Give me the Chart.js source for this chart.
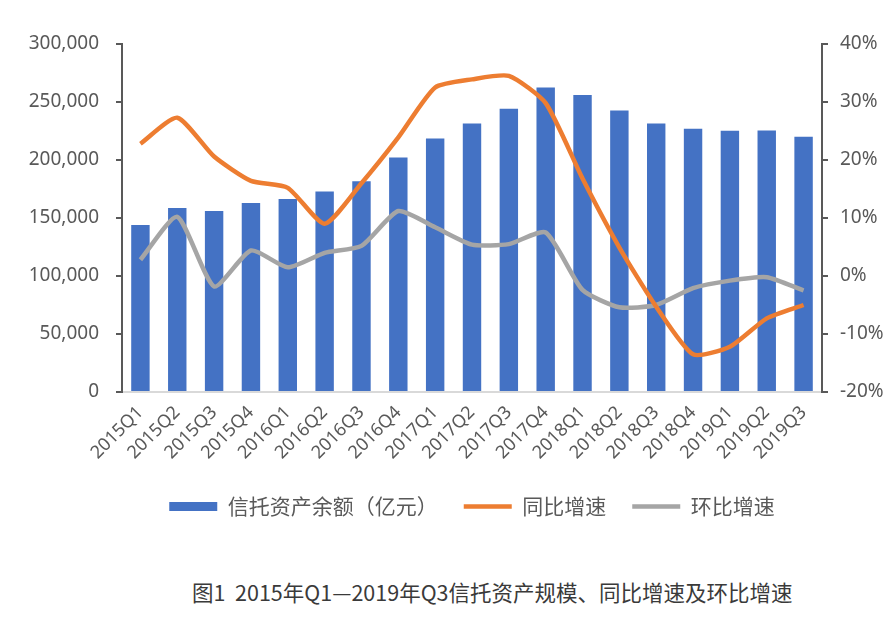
<!DOCTYPE html>
<html>
<head>
<meta charset="utf-8">
<script src="https://cdn.jsdelivr.net/npm/chart.js@4.4.0/dist/chart.umd.min.js"></script>
<style>
  body { margin: 0; background: #fff; }
  #wrap { position: relative; width: 888px; height: 629px; }
  #caption {
    position: absolute; left: 192px; top: 576px;
    font: 21.5px "Noto Sans CJK SC", sans-serif; color: #3a3a3a; white-space: pre;
  }
</style>
</head>
<body>
<div id="wrap">
  <canvas id="trustChart" width="888" height="527"></canvas>
  <div id="caption">图1  2015年Q1—2019年Q3信托资产规模、同比增速及环比增速</div>
</div>
<script>
var quarters = ['2015Q1', '2015Q2', '2015Q3', '2015Q4', '2016Q1', '2016Q2', '2016Q3', '2016Q4',
    '2017Q1', '2017Q2', '2017Q3', '2017Q4', '2018Q1', '2018Q2', '2018Q3', '2018Q4',
    '2019Q1', '2019Q2', '2019Q3'];
// 信托资产余额（亿元）
var balance = [143900, 158700, 156000, 163000, 166300, 172900, 181700, 202200,
    218500, 231400, 244100, 262500, 256100, 242700, 231400, 227000,
    225300, 225400, 220000];
// 同比增速 (%)
var yoy = [22.8, 27.3, 20.6, 16.4, 15.2, 9.0, 16.0, 23.9,
    32.5, 33.9, 34.5, 29.8, 16.8, 4.9, -5.3, -13.5,
    -12.2, -7.3, -5.0];
// 环比增速 (%)
var qoq = [2.8, 10.2, -1.8, 4.4, 1.5, 4.0, 5.2, 11.2,
    8.4, 5.4, 5.5, 7.5, -2.4, -5.4, -5.0, -2.1,
    -0.8, -0.2, -2.5];

var grey = '#595959';
var tickFont = { family: '"Noto Sans", "Noto Sans CJK SC", sans-serif', size: 19 };

var ctx = document.getElementById('trustChart').getContext('2d');
var trustChart = new Chart(ctx, {
    type: 'bar',
    data: {
        labels: quarters,
        datasets: [{
            type: 'bar',
            label: '信托资产余额（亿元）',
            data: balance,
            backgroundColor: '#4472C4',
            borderWidth: 0,
            barPercentage: 0.5,
            categoryPercentage: 1,
            yAxisID: 'y',
            pointStyle: 'rect',
            order: 1
        }, {
            type: 'line',
            label: '同比增速',
            data: yoy,
            borderColor: '#ED7D31',
            backgroundColor: '#ED7D31',
            borderWidth: 4.5,
            pointRadius: 0,
            tension: 0.2,
            yAxisID: 'y1',
            pointStyle: 'line',
            order: 0
        }, {
            type: 'line',
            label: '环比增速',
            data: qoq,
            borderColor: '#A5A5A5',
            backgroundColor: '#A5A5A5',
            borderWidth: 4.5,
            pointRadius: 0,
            tension: 0.2,
            yAxisID: 'y1',
            pointStyle: 'line',
            order: 0
        }]
    },
    options: {
        responsive: false,
        animation: false,
        layout: { padding: { top: 44, bottom: 0, left: 0, right: 0 } },
        plugins: {
            tooltip: { enabled: false },
            legend: {
                position: 'bottom',
                fullSize: false,
                labels: {
                    usePointStyle: true,
                    pointStyleWidth: 48,
                    boxHeight: 9,
                    padding: 26,
                    color: grey,
                    font: { family: '"Noto Sans CJK SC", sans-serif', size: 21 },
                    sort: function (a, b) { return a.datasetIndex - b.datasetIndex; }
                }
            }
        },
        scales: {
            x: {
                grid: { display: false },
                border: { display: true, color: '#d9d9d9', width: 2 },
                ticks: {
                    color: grey,
                    font: { family: tickFont.family, size: 18 },
                    minRotation: 45,
                    maxRotation: 45,
                    padding: 2
                },
                afterFit: function (scale) { scale.height = 78; }
            },
            y: {
                position: 'left',
                min: 0,
                max: 300000,
                ticks: {
                    stepSize: 50000,
                    color: grey,
                    font: tickFont,
                    padding: 17,
                    callback: function (v) { return v.toLocaleString('en-US'); }
                },
                grid: { drawOnChartArea: false, drawTicks: true, tickLength: 6, color: grey, lineWidth: 2 },
                border: { display: true, color: grey, width: 2 },
                afterFit: function (scale) { scale.width = 122; }
            },
            y1: {
                position: 'right',
                min: -20,
                max: 40,
                ticks: {
                    stepSize: 10,
                    color: grey,
                    font: tickFont,
                    padding: 12,
                    callback: function (v) { return v + '%'; }
                },
                grid: { drawOnChartArea: false, drawTicks: true, tickLength: 6, color: grey, lineWidth: 2 },
                border: { display: true, color: grey, width: 2 },
                afterFit: function (scale) { scale.width = 66; }
            }
        }
    }
});
</script>
</body>
</html>
